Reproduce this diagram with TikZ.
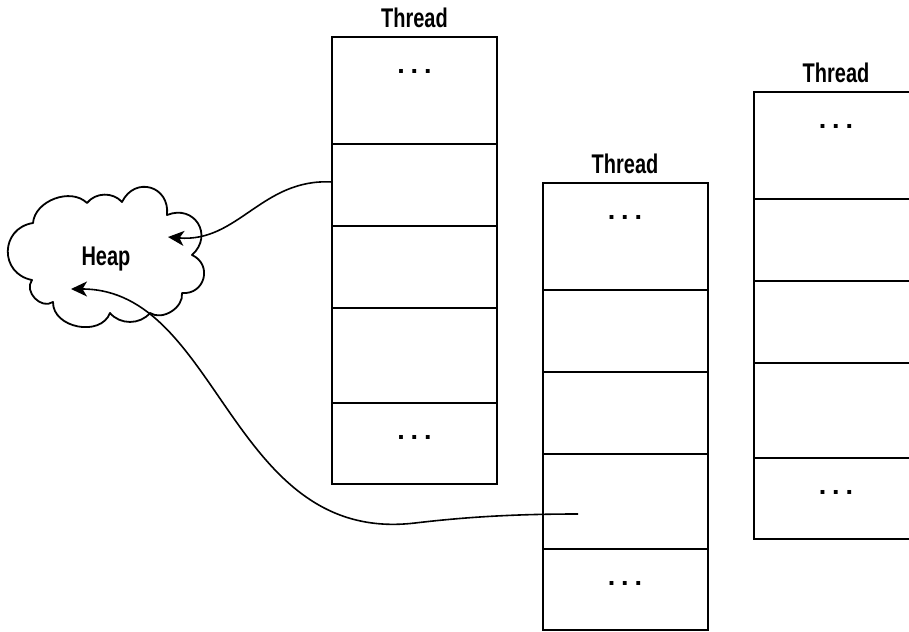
\documentclass[tikz,border=0pt]{standalone}
\usepackage{fontspec}
\setmainfont{Liberation Sans}
\newfontfamily\labelfont[FakeStretch=0.74]{Liberation Sans}
\usetikzlibrary{arrows.meta}

% five stacked frames of one thread: name, x of centre, y of top
\newcommand\stackcells[3]{%
  \node[cell, minimum height=107pt, anchor=north] (#1c1) at (#2,#3) {};
  \node[cell, minimum height=82pt, anchor=north] (#1c2) at (#1c1.south) {};
  \node[cell, minimum height=82pt, anchor=north] (#1c3) at (#1c2.south) {};
  \node[cell, minimum height=95pt, anchor=north] (#1c4) at (#1c3.south) {};
  \node[cell, minimum height=81pt, anchor=north] (#1c5) at (#1c4.south) {};
  \node[lbl, anchor=base] (#1lbl) at ([yshift=9.5pt]#1c1.north) {Thread};
  \node[dots, anchor=base] (#1top) at ([yshift=-36.8pt]#1c1.north) {.\hspace{5.8pt}.\hspace{5.8pt}.};
  \node[dots, anchor=base] (#1bot) at ([yshift=-36.8pt]#1c5.north) {.\hspace{5.8pt}.\hspace{5.8pt}.};
}

\begin{document}
\begin{tikzpicture}[x=1pt, y=-1pt,
  cell/.style={draw, line width=2pt, minimum width=165pt, outer sep=0pt, inner sep=0pt},
  lbl/.style={inner sep=0pt, font=\fontsize{27}{30}\selectfont\labelfont\bfseries},
  dots/.style={inner sep=0pt, font=\fontsize{27}{29}\selectfont\bfseries},
  link/.style={line width=1.6pt, -{Stealth[length=16pt, width=15pt, inset=4.5pt]}},
  puff/.style={line width=1.8pt, line join=round}]
\useasboundingbox (0,0) rectangle (909,631);
\clip (0,0) rectangle (909,631);

% thread stacks
\stackcells{t1}{414.5}{37}
\stackcells{t2}{625}{183}
\stackcells{t3}{836}{92}

% the heap cloud
\draw[puff] (33,223)
  to[bend left=65] (87,203)
  to[bend left=50] (122,202)
  to[bend left=80, looseness=1.6] (167,215)
  to[bend left=80, looseness=1.6] (192,255)
  to[bend left=80, looseness=1.5] (182,293)
  to[bend left=65] (150,313)
  to[bend left=50] (110,313)
  to[bend left=80, looseness=1.15] (53,302)
  to[bend left=80, looseness=1.2] (32,280)
  to[bend left=80, looseness=1.5] cycle;
\node[lbl, anchor=base] (heap) at (106,265) {Heap};

% references from stack frames into the heap
\coordinate (h1) at (168,237);
\coordinate (h2) at (71,289);
\coordinate (s2) at (578,514);
\draw[link] ([yshift=3pt]t1c2.west) .. controls (262,178) and (238,243) .. (h1);
\draw[link] (s2) .. controls (520,514) and (470,516.5) .. (415,523)
  .. controls (230,545) and (220,289) .. (h2);
\end{tikzpicture}
\end{document}
